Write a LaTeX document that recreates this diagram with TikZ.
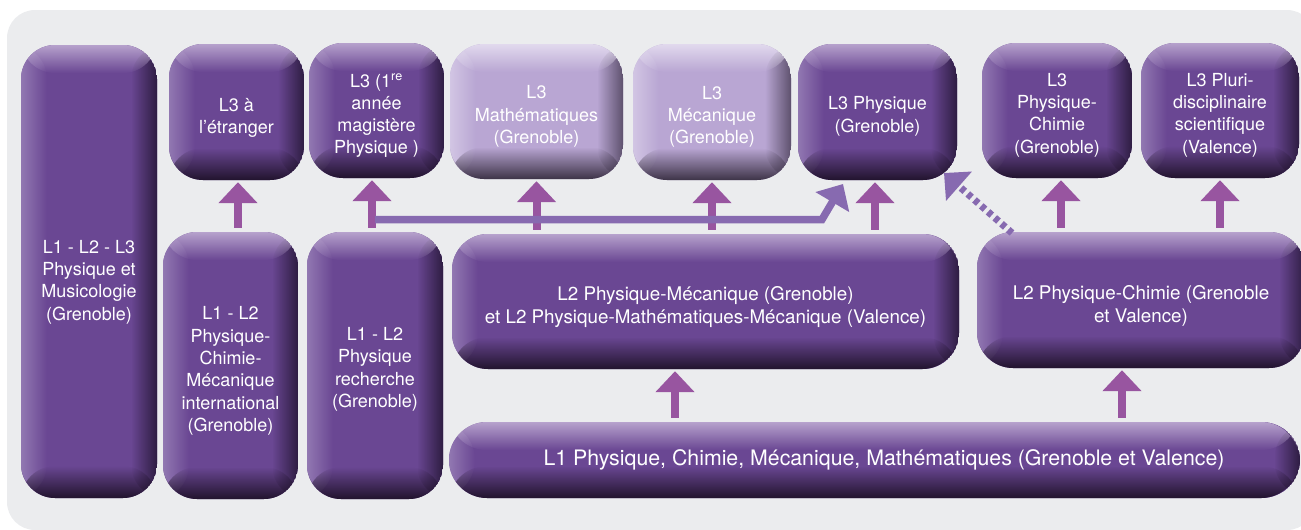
\documentclass[tikz,border=0pt]{standalone}
\usepackage{fontspec}
\setmainfont{TeX Gyre Heros}
\usetikzlibrary{arrows.meta,fadings}
\definecolor{bg}{HTML}{EBECEE}
\definecolor{pmid}{HTML}{6A4793}
\definecolor{ptop}{HTML}{B7A2CD}
\definecolor{pbot}{HTML}{22142E}
\definecolor{pleft}{HTML}{9278B2}
\definecolor{pright}{HTML}{2E1D42}
\definecolor{lmid}{HTML}{B9A6D3}
\definecolor{ltop}{HTML}{E2DAEE}
\definecolor{lbot}{HTML}{3E3448}
\definecolor{lleft}{HTML}{D2C6E4}
\definecolor{lright}{HTML}{5E516E}
\definecolor{arr}{HTML}{9855A0}
\definecolor{arrb}{HTML}{876AB0}
\tikzfading[name=fdown, top color=transparent!0, bottom color=transparent!100]
\tikzfading[name=fup, top color=transparent!100, bottom color=transparent!0]
\tikzfading[name=fright, left color=transparent!0, right color=transparent!100]
\tikzfading[name=fleft, left color=transparent!100, right color=transparent!0]
\newcommand\tp[1]{\rule{0pt}{#1pt}}
\newcommand\bevelfill[5]{%
  \fill[#2] (path picture bounding box.south west) rectangle (path picture bounding box.north east);
  \fill[#4, path fading=fright] (path picture bounding box.south west) rectangle ([xshift=26pt]path picture bounding box.north west);
  \fill[#5, path fading=fleft] ([xshift=-26pt]path picture bounding box.south east) rectangle (path picture bounding box.north east);
  \fill[#1, path fading=fdown] (path picture bounding box.north west) rectangle ([yshift=-28pt]path picture bounding box.north east);
  \fill[#3, path fading=fup] ([yshift=32pt]path picture bounding box.south west) rectangle (path picture bounding box.south east);
}
\tikzset{
  pbox/.style={rectangle, rounded corners=34pt, inner sep=0pt, align=center,
    text=white, font=\fontsize{18}{22.3}\selectfont,
    path picture={\bevelfill{ptop}{pmid}{pbot}{pleft}{pright}}},
  lbox/.style={pbox, path picture={\bevelfill{ltop}{lmid}{lbot}{lleft}{lright}}},
  uparrow/.style={draw=arr, line width=8pt, -{Triangle[width=38pt,length=21pt]},
    shorten >=2pt, shorten <=4pt},
  longarrow/.style={draw=arrb, line width=7.5pt, -{Triangle[width=38pt,length=21pt]}},
  dotarrow/.style={draw=arrb, line width=7pt, dash pattern=on 5pt off 4pt,
    -{Triangle[width=38pt,length=20pt]}}
}
\begin{document}
\begin{tikzpicture}[x=1pt,y=-1pt]
\useasboundingbox (0,0) rectangle (1301,530);
\begin{scope}
\clip (0,0) rectangle (1301,530);
\fill[bg, rounded corners=28pt] (7,10) rectangle (1315,530);

\node[pbox, minimum width=136pt, minimum height=453pt] (musico) at (89,271.5)
  {\tp{34}L1 - L2 - L3\\Physique et\\Musicologie\\(Grenoble)};
\node[pbox, minimum width=135pt, minimum height=136pt] (etranger) at (236.5,112)
  {\tp{25}L3 à\\l’étranger};
\node[pbox, minimum width=135pt, minimum height=135pt] (magistere) at (376.5,110.5)
  {\tp{24}L3 (1\textsuperscript{re}\\année\\magistère\\Physique )};
\node[lbox, minimum width=173pt, minimum height=135pt] (maths) at (536.5,111.5)
  {\tp{23}L3\\Mathématiques\\(Grenoble)};
\node[lbox, minimum width=158pt, minimum height=136pt] (meca) at (712,112)
  {\tp{23}L3\\Mécanique\\(Grenoble)};
\node[pbox, minimum width=159pt, minimum height=136pt] (phys) at (877.5,112)
  {\tp{22}L3 Physique\\(Grenoble)};
\node[pbox, minimum width=150pt, minimum height=135pt] (pc3) at (1057,110.5)
  {\tp{22}L3\\Physique-\\Chimie\\(Grenoble)};
\node[pbox, minimum width=158pt, minimum height=135pt] (pluri) at (1220,110.5)
  {\tp{22}L3 Pluri-\\disciplinaire\\scientifique\\(Valence)};

\node[pbox, minimum width=135pt, minimum height=267pt] (intl) at (230.5,365.5)
  {\tp{24}L1 - L2\\Physique-\\Chimie-\\Mécanique\\international\\(Grenoble)};
\node[pbox, minimum width=136pt, minimum height=267pt] (rech) at (375,365.5)
  {\tp{21}L1 - L2\\Physique\\recherche\\(Grenoble)};
\node[pbox, rounded corners=36pt, minimum width=507pt, minimum height=135pt,
  font=\fontsize{18.8}{23}\selectfont] (l2pm) at (705.5,301.5)
  {\tp{26}L2 Physique-Mécanique (Grenoble)\\et L2 Physique-Mathématiques-Mécanique (Valence)};
\node[pbox, rounded corners=36pt, minimum width=328pt, minimum height=136pt,
  font=\fontsize{18.8}{23}\selectfont] (l2pc) at (1141,300)
  {\tp{26}L2 Physique-Chimie (Grenoble\\et Valence)};
\node[pbox, rounded corners=38pt, minimum width=851pt, minimum height=76pt,
  font=\fontsize{21.3}{25}\selectfont] (l1) at (874.5,460)
  {\hspace*{19pt}L1 Physique, Chimie, Mécanique, Mathématiques (Grenoble et Valence)};

% arrows
\draw[uparrow] ([xshift=1.5pt]etranger.south |- intl.north) -- ([xshift=1.5pt]etranger.south);
\draw[uparrow] ([xshift=-3pt]rech.north) -- ([xshift=-3pt]rech.north |- magistere.south);
\draw[uparrow] (maths.south |- l2pm.north) -- (maths.south);
\draw[uparrow] (meca.south |- l2pm.north) -- (meca.south);
\draw[uparrow] ([xshift=-2.5pt]phys.south |- l2pm.north) -- ([xshift=-2.5pt]phys.south);
\draw[uparrow] ([xshift=4pt]pc3.south |- l2pc.north) -- ([xshift=4pt]pc3.south);
\draw[uparrow] (pluri.south |- l2pc.north) -- (pluri.south);
\draw[uparrow] ([xshift=-30.5pt]l2pm.south |- l1.north) -- ([xshift=-30.5pt]l2pm.south);
\draw[uparrow] ([xshift=-19pt]l2pc.south |- l1.north) -- ([xshift=-19pt]l2pc.south);

\coordinate (lstart) at (375,219.5);
\coordinate (ltip) at (843,184);
\draw[longarrow] (lstart) -- (822,219.5) -- (ltip);

\coordinate (dstart) at (1012,233);
\coordinate (dtip) at (944,173);
\draw[dotarrow] (dstart) -- (dtip);
\end{scope}
\end{tikzpicture}
\end{document}
